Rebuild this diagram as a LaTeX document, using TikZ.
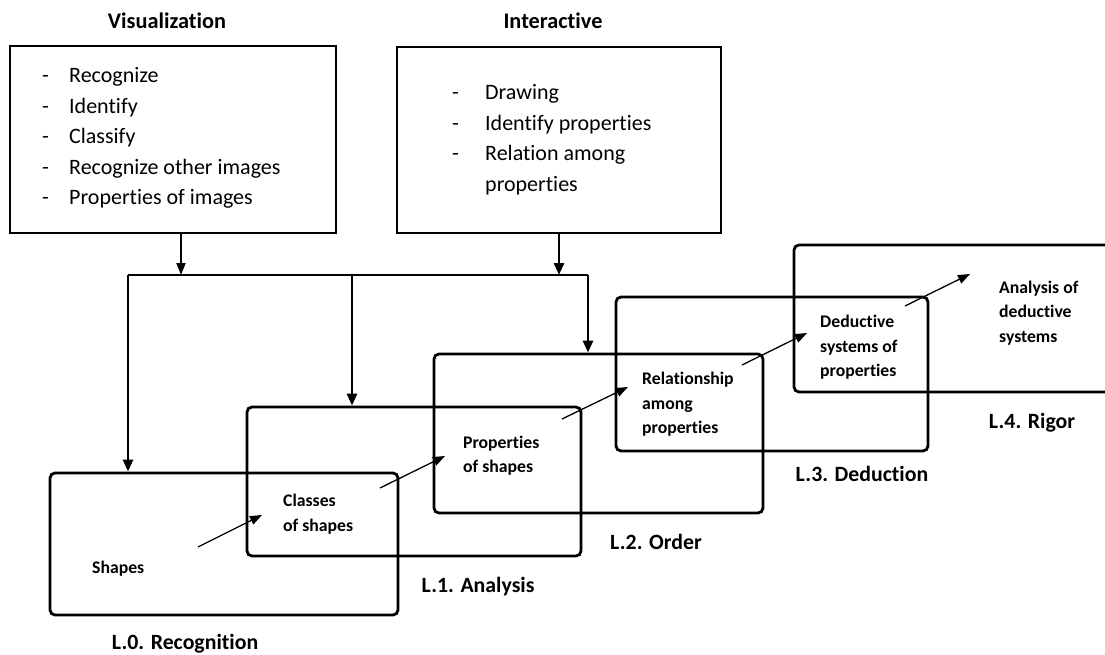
\documentclass[tikz,border=0pt]{standalone}
\usepackage{fontspec}
\setmainfont{Carlito}[Ligatures={NoCommon,NoRequired,NoContextual}]
\usetikzlibrary{arrows.meta}

\tikzset{
  levelbox/.style={draw, line width=2.8pt, rounded corners=5pt, inner sep=0pt},
  listbox/.style={draw, line width=2.8pt, inner sep=0pt},
  listtext/.style={inner sep=0pt, align=left, font=\fontsize{22}{30.5}\selectfont},
  innertext/.style={inner sep=0pt, align=left, font=\bfseries\fontsize{17.7}{24.5}\selectfont},
  title/.style={inner sep=0pt, font=\bfseries\fontsize{22.3}{24}\selectfont},
  levellabel/.style={inner sep=0pt, font=\bfseries\fontsize{21.8}{24}\selectfont},
  bus/.style={line width=2.8pt},
  busarrow/.style={line width=2.8pt, -{Triangle[length=12pt,width=10pt]}},
  steparrow/.style={line width=1.3pt, -{Triangle[length=12pt,width=9pt]}}
}

\begin{document}
\begin{tikzpicture}[x=1pt,y=-1pt]
  \useasboundingbox (0,0) rectangle (1105,655);
  \clip (0,0) rectangle (1105,655);

  % top boxes
  \node[title] (vistitle) at (167,21) {Visualization};
  \node[title] (inttitle) at (553,21) {Interactive};
  \node[listbox, minimum width=326pt, minimum height=187pt] (vis) at (173,139.5) {};
  \node[listbox, minimum width=324pt, minimum height=186pt] (int) at (559,140) {};
  \node[listtext, anchor=west] (vislist) at (42,138) {%
    \makebox[27pt][l]{-}Recognize\\
    \makebox[27pt][l]{-}Identify\\
    \makebox[27pt][l]{-}Classify\\
    \makebox[27pt][l]{-}Recognize other images\\
    \makebox[27pt][l]{-}Properties of images};
  \node[listtext, anchor=west] (intlist) at (452,139.5) {%
    \makebox[33pt][l]{-}Drawing\\
    \makebox[33pt][l]{-}Identify properties\\
    \makebox[33pt][l]{-}Relation among\\
    \hspace*{33pt}properties};

  % level boxes
  \node[levelbox, minimum width=348pt, minimum height=142pt] (l0) at (224,544) {};
  \node[levelbox, minimum width=334pt, minimum height=149pt] (l1) at (414,481.5) {};
  \node[levelbox, minimum width=329pt, minimum height=159pt] (l2) at (598.5,433.5) {};
  \node[levelbox, minimum width=312pt, minimum height=154pt] (l3) at (772,374) {};
  \node[levelbox, minimum width=331pt, minimum height=147pt] (l4) at (959.5,318.5) {};

  \node[levellabel] (l0lab) at (185,644) {L.0. Recognition};
  \node[levellabel] (l1lab) at (478,587) {L.1. Analysis};
  \node[levellabel] (l2lab) at (656,542) {L.2. Order};
  \node[levellabel] (l3lab) at (862,474) {L.3. Deduction};
  \node[levellabel] (l4lab) at (1032,423) {L.4. Rigor};

  % texts inside the levels
  \node[innertext, anchor=west] (shapes) at (92,569) {Shapes};
  \node[innertext, anchor=west] (classes) at (283,514) {Classes\\of shapes};
  \node[innertext, anchor=west] (props) at (463,455.5) {Properties\\of shapes};
  \node[innertext, anchor=west] (relat) at (642,404.5) {Relationship\\among\\properties};
  \node[innertext, anchor=west] (deduct) at (820,347.5) {Deductive\\systems of\\properties};
  \node[innertext, anchor=west] (analys) at (999,313) {Analysis of\\deductive\\systems};

  % bus
  \coordinate (b0) at (128,275);
  \coordinate (b1) at (352,275);
  \coordinate (b2) at (588,275);
  \draw[line width=1.8pt, -{Triangle[length=12pt,width=9pt]}]
    ([xshift=8pt]vis.south) -- ([xshift=8pt]vis.south |- b0);
  \draw[busarrow] (int.south) -- (int.south |- b0);
  \draw[bus] (b0) -- (b2);
  \draw[busarrow] (b0) -- (b0 |- l0.north);
  \draw[busarrow] (b1) -- (b1 |- l1.north);
  \draw[busarrow] (b2) -- (b2 |- l2.north);

  % steps between the levels
  \coordinate (s0) at (198,547);
  \coordinate (t0) at (262,515);
  \coordinate (s1) at (380,488);
  \coordinate (t1) at (445,456);
  \coordinate (s2) at (562,419);
  \coordinate (t2) at (628,387);
  \coordinate (s3) at (742,365);
  \coordinate (t3) at (807,333);
  \coordinate (s4) at (905,306);
  \coordinate (t4) at (970,274);
  \draw[steparrow] (s0) -- (t0);
  \draw[steparrow] (s1) -- (t1);
  \draw[steparrow] (s2) -- (t2);
  \draw[steparrow] (s3) -- (t3);
  \draw[steparrow] (s4) -- (t4);
\end{tikzpicture}
\end{document}
